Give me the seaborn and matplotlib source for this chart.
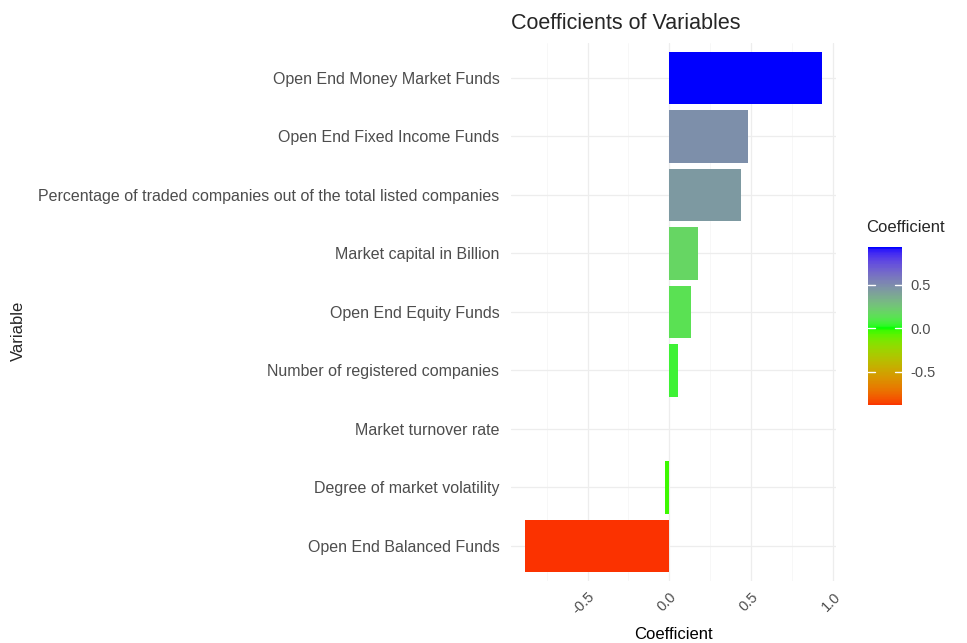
import numpy as np
import pandas as pd
import matplotlib
matplotlib.use("Agg")
import matplotlib.pyplot as plt
from matplotlib.colors import ListedColormap, Normalize
from matplotlib.cm import ScalarMappable
import seaborn as sns

# ─────────────────────────────────────────────
# DATA
# ─────────────────────────────────────────────
variables = [
    "Open End Money Market Funds",
    "Open End Fixed Income Funds",
    "Percentage of traded companies out of the total listed companies",
    "Market capital in Billion",
    "Open End Equity Funds",
    "Number of registered companies",
    "Market turnover rate",
    "Degree of market volatility",
    "Open End Balanced Funds",
]
coefs = [0.93, 0.48, 0.44, 0.175, 0.13, 0.055, 0.0, -0.03, -0.88]
x_ticks = [-0.5, 0.0, 0.5, 1.0]
x_minor = [-0.75, -0.25, 0.25, 0.75]
cbar_ticks = [-0.5, 0.0, 0.5]

df = pd.DataFrame({"Variable": variables, "Coefficient": coefs})


# ─────────────────────────────────────────────
# COLOUR SCALE (red - green - blue, Lab blend)
# ─────────────────────────────────────────────
def rgb_to_lab(rgb):
    c = np.asarray(rgb, dtype=float)
    c = np.where(c > 0.04045, ((c + 0.055) / 1.055) ** 2.4, c / 12.92)
    m = np.array([[0.4124, 0.3576, 0.1805],
                  [0.2126, 0.7152, 0.0722],
                  [0.0193, 0.1192, 0.9505]])
    xyz = m @ c / np.array([0.95047, 1.0, 1.08883])
    f = np.where(xyz > 0.008856, np.cbrt(xyz), 7.787 * xyz + 16 / 116)
    return np.array([116 * f[1] - 16, 500 * (f[0] - f[1]),
                     200 * (f[1] - f[2])])


def lab_to_rgb(lab):
    L, a, b = lab
    fy = (L + 16) / 116
    f = np.array([fy + a / 500, fy, fy - b / 200])
    xyz = np.where(f ** 3 > 0.008856, f ** 3, (f - 16 / 116) / 7.787)
    xyz = xyz * np.array([0.95047, 1.0, 1.08883])
    m = np.array([[3.2406, -1.5372, -0.4986],
                  [-0.9689, 1.8758, 0.0415],
                  [0.0557, -0.2040, 1.0570]])
    c = m @ xyz
    c = np.where(c > 0.0031308, 1.055 * np.clip(c, 0, None) ** (1 / 2.4) - 0.055,
                 12.92 * c)
    return np.clip(c, 0, 1)


stops = [rgb_to_lab(c) for c in [(1, 0, 0), (0, 1, 0), (0, 0, 1)]]
cols = []
for t in np.linspace(0, 1, 256):
    if t <= 0.5:
        u = t / 0.5
        lab = stops[0] * (1 - u) + stops[1] * u
    else:
        u = (t - 0.5) / 0.5
        lab = stops[1] * (1 - u) + stops[2] * u
    cols.append(lab_to_rgb(lab))
cmap = ListedColormap(cols)
lim = max(abs(min(coefs)), abs(max(coefs)))
norm = Normalize(vmin=-lim, vmax=lim)
bar_colors = [cmap(norm(v)) for v in coefs]

# ─────────────────────────────────────────────
# PLOT
# ─────────────────────────────────────────────
sns.set_style("white")
plt.rcParams["font.family"] = ["Liberation Sans", "DejaVu Sans"]

fig = plt.figure(figsize=(9.67, 6.43), dpi=100)
ax = fig.add_axes([0.528, 0.0964, 0.337, 0.837])

for v in x_ticks:
    ax.axvline(v, color="#EDEDED", lw=0.9, zorder=0)
for v in x_minor:
    ax.axvline(v, color="#F4F4F4", lw=0.5, zorder=0)
for i in range(len(variables)):
    ax.axhline(i, color="#EDEDED", lw=0.9, zorder=0)

sns.barplot(data=df, x="Coefficient", y="Variable", hue="Variable",
            palette=bar_colors, orient="h", width=0.9, legend=False,
            saturation=1, linewidth=0, ax=ax, zorder=2)

ax.set_xlim(-0.97, 1.02)
ax.set_ylim(8.6, -0.6)
ax.set_xticks(x_ticks)
ax.set_xticklabels([f"{v:.1f}" for v in x_ticks], rotation=45,
                   ha="right", rotation_mode="anchor")
ax.tick_params(axis="x", length=0, colors="#4D4D4D", labelsize=10.5, pad=6)
ax.tick_params(axis="y", length=0, colors="#4D4D4D", labelsize=11.5, pad=8)
for s in ax.spines.values():
    s.set_visible(False)

ax.set_xlabel("Coefficient", fontsize=12, color="black", labelpad=7)
ax.set_ylabel("")
fig.text(0.019, 0.485, "Variable", rotation=90, fontsize=12,
         va="center", ha="center")
ax.set_title("Coefficients of Variables", fontsize=15.5, loc="left",
             pad=10, x=0.0)

# colour bar legend
cax = fig.add_axes([868 / 967, 1 - 405 / 643, 34 / 967, 158 / 643])
sm = ScalarMappable(norm=norm, cmap=cmap)
cb = fig.colorbar(sm, cax=cax,
                  boundaries=np.linspace(min(coefs), max(coefs), 200))
cb.outline.set_visible(False)
cb.set_ticks(cbar_ticks)
cb.set_ticklabels([f"{v:.1f}" for v in cbar_ticks])
cax.tick_params(length=0, colors="#4D4D4D", labelsize=10.5, pad=6)
for v in cbar_ticks:
    cax.axhline(v, xmin=0, xmax=0.2, color="white", lw=1)
    cax.axhline(v, xmin=0.8, xmax=1, color="white", lw=1)
fig.text(866 / 967, 1 - 228 / 643, "Coefficient", fontsize=12,
         va="center", ha="left")

plt.savefig("out.png", dpi=100)
plt.close()
